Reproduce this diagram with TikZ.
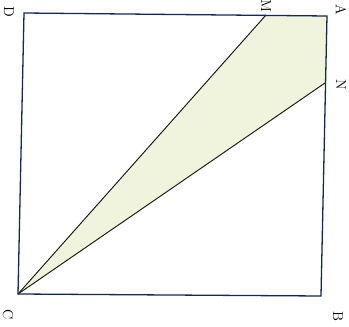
\documentclass[tikz,border=0pt]{standalone}
\begin{document}
\begin{tikzpicture}[x=1bp,y=1bp,
  lbl/.style={rotate=-90,font=\Large,inner sep=0pt},
  edge/.style={draw={rgb,255:red,20;green,40;blue,90},line width=1.3pt},
  ray/.style={draw={rgb,255:red,30;green,35;blue,20},line width=1pt}]
\definecolor{regionfill}{RGB}{240,244,220}
\useasboundingbox (0,0) rectangle (349,327);
\coordinate (D) at (24,314);
\coordinate (A) at (327,311);
\coordinate (B) at (321,31);
\coordinate (C) at (18,33);
\coordinate (M) at (266,312);
\coordinate (N) at (325,244);
\fill[regionfill] (C) -- (M) -- (A) -- (N) -- cycle;
\draw[ray] (C) -- (M);
\draw[ray] (C) -- (N);
\draw[edge] (D) -- (A) -- (B) -- (C) -- cycle;
\node[lbl] (lD) at (9,315) {D};
\node[lbl] (lA) at (341,317) {A};
\node[lbl] (lM) at (266,321) {M};
\node[lbl] (lN) at (341,242) {N};
\node[lbl] (lB) at (338,11) {B};
\node[lbl] (lC) at (8,12) {C};
\end{tikzpicture}
\end{document}
